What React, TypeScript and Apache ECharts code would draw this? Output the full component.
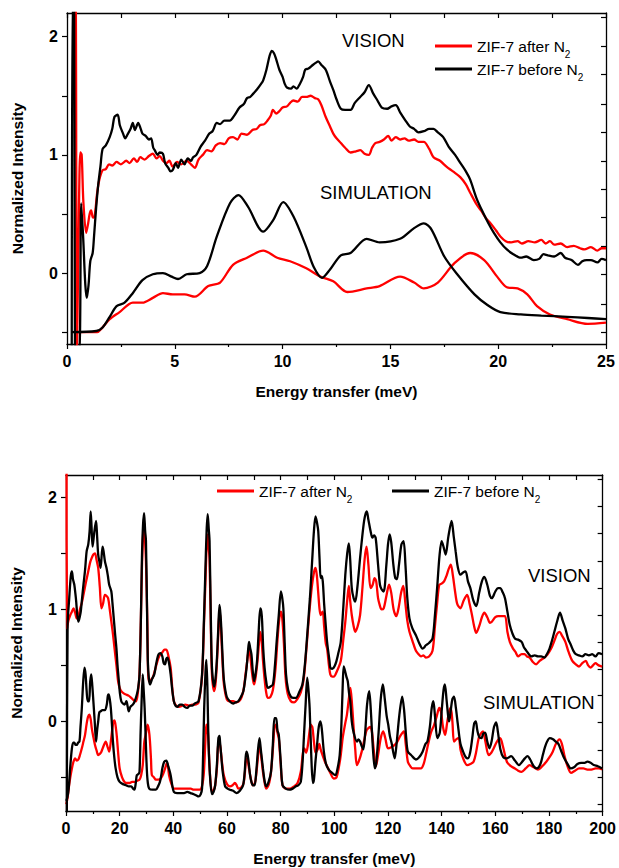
import React, { useEffect, useRef } from "react";
import * as echarts from "echarts";

const FONT = "'Liberation Sans', Arial, Helvetica, sans-serif";

const SERIES_NAMES = ["ZIF-7 after N2", "ZIF-7 before N2"];
const PANEL_LABELS = ["VISION", "SIMULATION"];
const X_NAME = "Energy transfer (meV)";
const Y_NAME = "Normalized Intensity";

// top panel (0-25 meV)
const topVisionAfter = [[0.36,2.4],[0.40,2.4],[0.46,-0.7],[0.55,0.5],[0.62,1.02],[0.68,1.0],[0.76,0.6],[0.89,0.34],[0.98,0.42],[1.05,0.5],[1.12,0.53],[1.2,0.47],[1.28,0.48],[1.4,0.68],[1.5,0.79],[1.65,0.87],[1.8,0.88],[1.95,0.92],[2.1,0.91],[2.3,0.94],[2.5,0.92],[2.75,0.95],[2.9,0.93],[3.1,0.97],[3.25,0.94],[3.4,0.98],[3.6,0.96],[3.8,0.99],[3.98,1.01],[4.15,0.97],[4.3,0.99],[4.45,0.95],[4.6,0.93],[4.75,0.95],[4.9,0.9],[5.1,0.94],[5.3,0.92],[5.55,0.95],[5.75,0.92],[5.93,0.89],[6.1,0.96],[6.3,1.0],[6.5,1.04],[6.7,1.03],[6.9,1.08],[7.1,1.1],[7.3,1.09],[7.5,1.14],[7.7,1.15],[7.9,1.13],[8.1,1.18],[8.35,1.17],[8.6,1.21],[8.8,1.22],[8.95,1.25],[9.15,1.26],[9.3,1.29],[9.45,1.33],[9.55,1.38],[9.7,1.35],[9.85,1.37],[10.0,1.4],[10.2,1.41],[10.35,1.44],[10.5,1.46],[10.7,1.45],[10.9,1.49],[11.1,1.49],[11.3,1.5],[11.5,1.48],[11.65,1.47],[11.8,1.42],[12.0,1.32],[12.2,1.24],[12.35,1.18],[12.5,1.14],[12.7,1.1],[12.9,1.06],[13.15,1.02],[13.4,1.03],[13.6,1.04],[13.8,1.01],[14.0,1.0],[14.15,1.06],[14.3,1.1],[14.5,1.11],[14.7,1.13],[14.9,1.16],[15.05,1.12],[15.25,1.15],[15.45,1.13],[15.65,1.14],[15.85,1.12],[16.1,1.13],[16.3,1.11],[16.55,1.11],[16.8,1.05],[17.0,0.98],[17.3,0.95],[17.6,0.9],[17.9,0.86],[18.25,0.81],[18.5,0.75],[18.7,0.68],[19.0,0.58],[19.2,0.53],[19.45,0.46],[19.65,0.42],[19.9,0.36],[20.1,0.31],[20.35,0.27],[20.6,0.26],[20.9,0.27],[21.1,0.25],[21.4,0.27],[21.7,0.26],[22.0,0.28],[22.2,0.25],[22.4,0.27],[22.6,0.24],[22.9,0.25],[23.2,0.22],[23.5,0.23],[23.8,0.21],[24.0,0.2],[24.3,0.22],[24.6,0.19],[24.8,0.21],[25,0.21]];
const topVisionBefore = [[0.22,-0.7],[0.26,2.4],[0.33,2.4],[0.37,-0.7],[0.56,-0.7],[0.66,0.59],[0.75,0.3],[0.85,-0.1],[0.92,-0.21],[1.0,-0.1],[1.08,0.1],[1.19,0.17],[1.25,0.3],[1.35,0.55],[1.45,0.75],[1.55,0.9],[1.65,1.05],[1.8,1.08],[1.98,1.15],[2.1,1.22],[2.2,1.32],[2.35,1.34],[2.45,1.25],[2.6,1.18],[2.7,1.14],[2.8,1.17],[2.95,1.22],[3.05,1.27],[3.15,1.21],[3.3,1.27],[3.42,1.22],[3.5,1.18],[3.65,1.16],[3.8,1.13],[3.9,1.14],[4.0,1.06],[4.07,1.04],[4.2,1.0],[4.3,1.02],[4.45,1.01],[4.55,0.93],[4.7,0.89],[4.8,0.86],[4.9,0.87],[5.05,0.93],[5.15,0.89],[5.3,0.96],[5.45,0.92],[5.6,0.97],[5.75,0.95],[5.85,0.98],[6.0,1.0],[6.2,1.07],[6.4,1.12],[6.6,1.18],[6.75,1.2],[6.95,1.27],[7.1,1.26],[7.3,1.29],[7.55,1.29],[7.75,1.33],[8.0,1.4],[8.2,1.43],[8.35,1.48],[8.5,1.49],[8.65,1.52],[8.8,1.55],[9.0,1.6],[9.1,1.63],[9.25,1.72],[9.4,1.84],[9.5,1.88],[9.6,1.86],[9.7,1.81],[9.85,1.72],[10.0,1.66],[10.1,1.6],[10.2,1.57],[10.4,1.56],[10.5,1.58],[10.65,1.56],[10.8,1.6],[10.95,1.66],[11.05,1.72],[11.2,1.73],[11.4,1.76],[11.55,1.78],[11.65,1.79],[11.8,1.76],[12.0,1.72],[12.2,1.62],[12.35,1.55],[12.5,1.47],[12.7,1.39],[12.9,1.38],[13.15,1.38],[13.35,1.44],[13.6,1.49],[13.8,1.53],[14.0,1.59],[14.2,1.52],[14.4,1.46],[14.6,1.4],[14.85,1.39],[15.05,1.41],[15.25,1.42],[15.45,1.36],[15.7,1.29],[15.9,1.24],[16.1,1.22],[16.3,1.19],[16.55,1.2],[16.8,1.22],[17.0,1.22],[17.2,1.19],[17.45,1.15],[17.7,1.07],[18.0,1.0],[18.25,0.93],[18.5,0.86],[18.7,0.79],[19.0,0.63],[19.3,0.51],[19.55,0.42],[19.8,0.34],[20.1,0.26],[20.4,0.2],[20.7,0.16],[21.05,0.13],[21.3,0.14],[21.65,0.11],[21.9,0.12],[22.1,0.16],[22.3,0.15],[22.6,0.14],[22.9,0.17],[23.1,0.13],[23.4,0.11],[23.7,0.07],[23.9,0.1],[24.1,0.11],[24.3,0.11],[24.6,0.09],[24.8,0.12],[25,0.11]];
const topSimAfter = [[0.4,-0.5],[1.4,-0.5],[1.6,-0.47],[1.98,-0.39],[2.44,-0.33],[3.05,-0.25],[3.5,-0.25],[3.98,-0.21],[4.45,-0.17],[4.9,-0.18],[5.45,-0.18],[5.93,-0.2],[6.55,-0.11],[7.1,-0.08],[7.7,0.07],[8.35,0.13],[9.1,0.19],[9.75,0.13],[10.35,0.1],[11.1,0.04],[11.75,-0.03],[12.35,-0.07],[13.0,-0.16],[13.9,-0.13],[14.5,-0.11],[15.45,-0.03],[16.1,-0.08],[16.55,-0.13],[17.2,-0.08],[17.95,0.08],[18.7,0.17],[19.35,0.11],[19.95,-0.03],[20.4,-0.12],[20.9,-0.13],[21.35,-0.18],[21.8,-0.28],[22.4,-0.35],[23.2,-0.39],[24.15,-0.43],[25,-0.42]];
const topSimBefore = [[0.2,-0.5],[1.36,-0.49],[1.65,-0.46],[1.98,-0.37],[2.3,-0.28],[2.67,-0.25],[3.05,-0.17],[3.5,-0.06],[3.98,-0.01],[4.45,0.0],[4.85,-0.03],[5.15,-0.05],[5.55,-0.01],[6.15,0.0],[6.5,0.06],[6.95,0.31],[7.56,0.59],[7.95,0.66],[8.4,0.56],[9.1,0.35],[9.57,0.45],[10.03,0.6],[10.5,0.48],[11.1,0.22],[11.45,0.05],[11.83,-0.04],[12.2,0.03],[12.7,0.15],[13.15,0.17],[13.9,0.29],[14.5,0.26],[15.45,0.29],[16.1,0.38],[16.55,0.42],[16.9,0.37],[17.5,0.14],[18.1,-0.01],[18.9,-0.18],[19.5,-0.27],[20.1,-0.33],[21.05,-0.35],[22.0,-0.36],[23.2,-0.37],[24.15,-0.38],[25,-0.39]];

// bottom panel (0-200 meV)
const botVisionAfter = [[0.2,2.4],[0.4,0.83],[0.9,0.9],[1.6,0.95],[2.2,0.98],[2.8,1.01],[3.4,0.97],[4.0,0.92],[4.6,0.94],[5.3,1.01],[5.9,1.06],[6.5,1.13],[7.4,1.24],[8.3,1.34],[9.0,1.42],[9.6,1.46],[10.2,1.49],[10.8,1.5],[11.4,1.44],[12.0,1.37],[12.6,1.2],[13.2,1.01],[13.8,1.05],[14.5,1.13],[15.1,1.12],[15.7,1.1],[16.3,1.0],[16.9,0.89],[17.5,0.78],[18.1,0.65],[18.8,0.5],[19.4,0.36],[20.0,0.3],[20.6,0.27],[21.5,0.25],[22.4,0.24],[23.3,0.23],[24.3,0.21],[25.2,0.19],[26.1,0.18],[26.8,0.26],[27.4,0.42],[27.9,0.9],[28.3,1.37],[28.7,1.65],[29.1,1.79],[29.5,1.6],[29.8,1.43],[30.3,0.9],[30.8,0.36],[31.5,0.37],[32.3,0.39],[33.2,0.46],[34.1,0.54],[34.7,0.58],[35.3,0.6],[36.0,0.62],[36.7,0.64],[37.4,0.64],[38.2,0.58],[39.0,0.48],[39.6,0.3],[40.2,0.18],[41.1,0.14],[42.1,0.13],[43.3,0.14],[44.5,0.15],[45.8,0.14],[47.0,0.15],[48.2,0.15],[49.4,0.17],[50.7,0.4],[51.4,0.85],[51.9,1.2],[52.4,1.55],[52.8,1.67],[53.2,1.55],[53.5,1.45],[54.0,0.8],[54.4,0.42],[55.2,0.27],[55.7,0.33],[56.2,0.5],[56.7,0.75],[57.2,0.98],[57.6,0.9],[58.0,0.7],[58.5,0.45],[58.9,0.32],[59.9,0.2],[61.1,0.18],[62.3,0.18],[63.5,0.17],[64.5,0.18],[65.5,0.22],[66.3,0.3],[66.9,0.42],[67.6,0.55],[68.2,0.65],[68.7,0.58],[69.2,0.46],[69.7,0.37],[70.1,0.33],[70.7,0.4],[71.4,0.55],[72.0,0.72],[72.4,0.8],[72.9,0.72],[73.4,0.55],[74.0,0.38],[74.6,0.26],[75.2,0.21],[76.2,0.22],[77.1,0.28],[78.0,0.45],[78.8,0.72],[79.5,0.92],[80.1,0.98],[80.6,0.92],[81.2,0.7],[81.8,0.4],[82.6,0.25],[83.8,0.18],[85.0,0.17],[86.2,0.2],[87.5,0.26],[88.6,0.38],[89.6,0.65],[90.6,0.95],[91.6,1.2],[92.4,1.33],[93.0,1.37],[93.5,1.3],[94.0,1.15],[94.5,1.0],[94.9,0.95],[95.3,0.97],[95.7,0.98],[96.2,0.85],[96.8,0.7],[97.3,0.65],[98.0,0.5],[98.5,0.42],[99.2,0.4],[99.8,0.4],[101.0,0.45],[102.4,0.54],[103.3,0.72],[104.1,0.89],[104.8,1.08],[105.4,1.21],[105.9,1.08],[106.5,0.95],[107.2,0.85],[107.8,0.8],[108.7,0.85],[109.6,0.95],[110.5,1.2],[111.3,1.45],[112.0,1.56],[112.7,1.4],[113.5,1.19],[114.3,1.22],[115.0,1.28],[115.6,1.25],[116.3,1.1],[116.9,1.04],[117.6,1.0],[118.4,1.01],[119.4,1.12],[120.4,1.22],[121.2,1.15],[122.1,1.0],[123.1,0.94],[124.0,1.02],[124.9,1.15],[125.7,1.21],[126.5,1.05],[127.2,0.9],[128.0,0.8],[129.1,0.72],[130.4,0.63],[131.4,0.6],[132.3,0.58],[133.2,0.59],[134.1,0.57],[135.3,0.58],[136.6,0.63],[137.5,0.85],[138.3,1.05],[139.1,1.22],[140.0,1.23],[140.9,1.25],[141.8,1.3],[142.6,1.36],[143.4,1.4],[144.2,1.3],[145.0,1.16],[145.8,1.05],[147.0,1.01],[148.2,1.08],[149.5,1.13],[150.4,1.05],[151.3,0.95],[152.1,0.85],[152.9,0.79],[154.0,0.85],[155.0,0.93],[155.9,0.97],[157.0,0.93],[158.0,0.88],[158.7,0.89],[160.0,0.93],[161.1,0.94],[162.3,0.94],[163.6,0.94],[164.5,0.8],[165.4,0.71],[166.6,0.65],[167.5,0.62],[168.5,0.58],[169.8,0.6],[170.9,0.6],[171.8,0.58],[172.8,0.57],[174.0,0.53],[175.2,0.51],[176.5,0.54],[178.3,0.57],[179.5,0.6],[180.8,0.65],[182.0,0.72],[183.0,0.78],[183.9,0.8],[185.0,0.76],[186.1,0.71],[187.3,0.62],[188.7,0.54],[190.0,0.51],[191.2,0.49],[192.4,0.52],[193.7,0.54],[194.6,0.5],[195.5,0.48],[196.4,0.5],[197.3,0.52],[198.5,0.5],[199.8,0.49]];
const botVisionBefore = [[0.3,-0.9],[0.6,0.86],[1.2,1.1],[1.8,1.3],[2.2,1.34],[2.6,1.27],[3.1,1.22],[3.5,1.14],[3.8,1.07],[4.2,0.95],[4.65,0.89],[5.1,0.93],[5.5,0.98],[6.0,1.1],[6.5,1.22],[7.1,1.35],[7.7,1.52],[8.3,1.58],[8.8,1.7],[9.2,1.875],[9.5,1.75],[9.9,1.56],[10.5,1.68],[11.2,1.79],[11.6,1.65],[12.0,1.49],[12.5,1.42],[12.9,1.37],[13.6,1.56],[14.0,1.52],[14.5,1.43],[15.1,1.37],[15.6,1.3],[16.1,1.22],[16.9,1.16],[17.3,1.06],[17.8,0.92],[18.3,0.78],[18.8,0.65],[19.2,0.5],[19.7,0.36],[20.1,0.25],[20.6,0.18],[21.2,0.16],[21.8,0.15],[22.5,0.18],[23.0,0.13],[23.4,0.09],[24.0,0.13],[24.9,0.15],[25.6,0.18],[26.4,0.24],[26.9,0.3],[27.4,0.42],[27.9,0.9],[28.3,1.46],[28.7,1.75],[29.1,1.86],[29.5,1.7],[29.8,1.61],[30.2,1.0],[30.5,0.54],[30.9,0.38],[31.3,0.33],[32.1,0.38],[32.9,0.42],[33.5,0.5],[34.0,0.56],[34.5,0.6],[35.2,0.61],[35.9,0.58],[36.4,0.52],[36.9,0.51],[37.4,0.56],[37.8,0.57],[38.4,0.52],[39.0,0.42],[39.6,0.28],[40.2,0.18],[40.8,0.14],[41.5,0.13],[42.4,0.15],[43.3,0.15],[44.2,0.13],[45.2,0.12],[46.1,0.14],[47.0,0.14],[48.0,0.16],[49.4,0.18],[50.7,0.42],[51.4,0.9],[51.9,1.31],[52.4,1.7],[52.8,1.85],[53.2,1.72],[53.5,1.61],[54.0,0.9],[54.4,0.48],[55.2,0.31],[55.7,0.38],[56.2,0.54],[56.7,0.8],[57.2,1.04],[57.6,0.95],[58.0,0.77],[58.5,0.5],[58.9,0.36],[59.9,0.22],[61.0,0.18],[62.3,0.16],[63.2,0.17],[64.2,0.18],[65.2,0.22],[66.1,0.27],[66.8,0.38],[67.3,0.48],[67.8,0.62],[68.2,0.71],[68.6,0.66],[69.1,0.6],[69.6,0.45],[70.1,0.36],[70.6,0.42],[71.2,0.54],[71.8,0.8],[72.4,1.01],[72.8,0.98],[73.1,0.89],[73.5,0.65],[74.0,0.48],[74.6,0.36],[75.2,0.3],[76.1,0.31],[77.1,0.33],[77.8,0.48],[78.5,0.71],[79.3,0.95],[80.1,1.16],[80.6,1.1],[81.0,1.01],[81.5,0.7],[82.0,0.42],[82.8,0.28],[83.8,0.22],[84.8,0.21],[85.7,0.21],[86.9,0.26],[88.1,0.33],[89.0,0.5],[89.9,0.77],[90.9,1.1],[91.8,1.46],[92.4,1.7],[93.0,1.83],[93.5,1.78],[94.0,1.7],[94.5,1.45],[94.9,1.28],[95.3,1.3],[95.7,1.25],[96.2,1.05],[96.7,0.89],[97.3,0.71],[98.2,0.54],[98.5,0.48],[99.2,0.47],[100.4,0.51],[101.4,0.6],[102.4,0.71],[103.3,1.0],[104.1,1.31],[104.8,1.5],[105.4,1.59],[105.9,1.45],[106.5,1.19],[107.2,1.1],[107.8,1.07],[108.6,1.2],[109.6,1.46],[110.4,1.65],[111.1,1.79],[111.6,1.85],[112.1,1.875],[112.7,1.8],[113.5,1.7],[114.2,1.64],[114.8,1.66],[115.4,1.64],[116.3,1.4],[117.0,1.22],[117.6,1.18],[118.4,1.16],[119.4,1.4],[120.0,1.58],[120.6,1.67],[121.2,1.6],[122.0,1.4],[122.7,1.28],[123.3,1.27],[124.1,1.4],[125.0,1.58],[125.8,1.61],[126.5,1.4],[127.2,1.1],[128.0,0.92],[129.1,0.83],[130.4,0.77],[131.6,0.7],[132.9,0.65],[133.5,0.66],[134.1,0.68],[135.3,0.7],[136.6,0.74],[137.5,0.95],[138.4,1.22],[139.2,1.48],[140.0,1.61],[140.8,1.55],[141.5,1.49],[142.5,1.65],[143.7,1.79],[144.5,1.65],[145.2,1.52],[146.0,1.38],[147.0,1.31],[148.0,1.33],[148.9,1.34],[149.8,1.25],[150.7,1.19],[151.8,1.08],[152.9,1.03],[154.0,1.15],[155.0,1.25],[155.9,1.29],[157.0,1.22],[158.0,1.12],[158.7,1.1],[160.0,1.16],[161.0,1.19],[161.8,1.19],[162.8,1.15],[163.6,1.1],[164.5,0.98],[165.4,0.86],[166.3,0.79],[167.3,0.74],[168.5,0.73],[169.8,0.71],[170.7,0.66],[171.6,0.63],[172.5,0.6],[173.4,0.58],[174.7,0.59],[175.9,0.58],[177.1,0.58],[178.3,0.57],[179.2,0.6],[180.2,0.65],[181.1,0.72],[182.0,0.8],[183.0,0.89],[184.1,0.97],[185.1,0.9],[186.1,0.83],[187.1,0.74],[188.2,0.68],[189.1,0.63],[190.0,0.6],[191.2,0.59],[192.4,0.58],[193.6,0.6],[194.9,0.59],[196.1,0.6],[197.3,0.58],[198.5,0.61],[199.8,0.6]];
const botSimAfter = [[0.1,-0.74],[0.6,-0.68],[1.0,-0.6],[1.6,-0.5],[2.2,-0.42],[2.8,-0.36],[3.4,-0.33],[4.0,-0.35],[4.6,-0.34],[5.2,-0.3],[5.9,-0.24],[6.5,-0.18],[7.1,-0.12],[7.7,-0.02],[8.2,0.04],[8.7,0.06],[9.2,0.02],[9.6,-0.06],[10.2,-0.14],[10.8,-0.21],[11.4,-0.26],[12.0,-0.3],[12.6,-0.29],[13.2,-0.27],[14.0,-0.22],[14.8,-0.18],[15.4,-0.22],[16.1,-0.27],[16.7,-0.18],[17.3,-0.06],[17.7,0.0],[18.1,0.01],[18.6,-0.06],[19.0,-0.15],[19.5,-0.3],[20.0,-0.42],[20.9,-0.5],[21.8,-0.54],[22.7,-0.55],[23.7,-0.55],[24.6,-0.54],[25.5,-0.54],[26.5,-0.53],[27.4,-0.52],[28.0,-0.48],[28.6,-0.39],[29.2,-0.18],[29.7,-0.12],[30.4,-0.03],[30.9,-0.08],[31.3,-0.18],[31.7,-0.35],[32.0,-0.48],[32.8,-0.5],[33.5,-0.52],[34.4,-0.52],[35.3,-0.51],[36.2,-0.47],[37.2,-0.4],[37.6,-0.37],[38.0,-0.4],[38.4,-0.48],[39.2,-0.55],[40.2,-0.6],[41.6,-0.6],[43.3,-0.6],[45.0,-0.6],[46.5,-0.6],[47.6,-0.61],[49.2,-0.61],[50.4,-0.6],[51.3,-0.48],[51.9,-0.2],[52.3,-0.03],[52.7,-0.05],[53.1,-0.18],[53.6,-0.45],[54.4,-0.63],[55.1,-0.61],[55.6,-0.57],[56.3,-0.4],[56.8,-0.18],[57.3,-0.2],[57.6,-0.24],[58.2,-0.38],[58.8,-0.48],[60.0,-0.56],[61.1,-0.58],[62.1,-0.57],[62.9,-0.55],[63.6,-0.57],[64.2,-0.6],[65.3,-0.59],[66.2,-0.55],[66.7,-0.45],[67.2,-0.33],[67.7,-0.35],[68.2,-0.42],[68.8,-0.5],[69.6,-0.57],[70.4,-0.55],[71.0,-0.45],[71.5,-0.33],[72.1,-0.2],[72.6,-0.28],[73.4,-0.45],[74.2,-0.57],[74.6,-0.6],[75.6,-0.56],[76.4,-0.45],[77.1,-0.25],[77.7,-0.05],[78.3,-0.03],[78.8,-0.1],[79.3,-0.15],[80.0,-0.38],[80.7,-0.57],[82.0,-0.6],[83.5,-0.6],[85.0,-0.58],[86.3,-0.55],[87.5,-0.45],[88.3,-0.28],[88.8,-0.24],[89.5,-0.28],[90.1,-0.22],[90.7,-0.1],[91.2,-0.03],[91.8,-0.05],[92.4,-0.18],[93.0,-0.28],[93.8,-0.25],[94.4,-0.2],[94.9,-0.25],[95.6,-0.3],[96.5,-0.36],[97.3,-0.4],[98.5,-0.46],[99.8,-0.51],[100.8,-0.5],[101.6,-0.42],[102.4,-0.3],[103.1,-0.15],[103.5,-0.09],[104.2,0.0],[104.7,0.06],[105.4,0.2],[106.0,0.3],[106.6,0.15],[107.2,-0.06],[107.8,-0.25],[108.4,-0.39],[109.2,-0.35],[110.2,-0.27],[111.3,-0.15],[112.0,-0.08],[112.7,-0.06],[113.4,-0.05],[114.0,-0.09],[114.8,-0.28],[115.5,-0.4],[116.3,-0.3],[117.3,-0.15],[118.2,-0.09],[119.0,-0.15],[120.0,-0.24],[121.2,-0.23],[122.5,-0.21],[123.5,-0.18],[124.6,-0.13],[125.9,-0.09],[126.6,-0.2],[127.4,-0.36],[128.3,-0.4],[129.2,-0.42],[130.7,-0.42],[132.3,-0.42],[133.3,-0.38],[134.1,-0.3],[135.0,-0.2],[136.0,-0.1],[137.2,-0.03],[138.2,0.05],[139.1,0.12],[139.8,0.08],[140.5,-0.05],[141.3,-0.12],[142.0,-0.02],[142.7,0.08],[143.4,0.12],[144.0,0.0],[144.6,-0.18],[145.4,-0.16],[146.4,-0.15],[147.0,-0.25],[148.0,-0.33],[149.5,-0.39],[150.7,-0.38],[151.9,-0.36],[152.8,-0.28],[153.8,-0.15],[154.6,-0.11],[155.4,-0.09],[156.3,-0.18],[157.5,-0.3],[158.5,-0.28],[159.4,-0.24],[160.6,-0.18],[161.8,-0.15],[162.8,-0.22],[164.3,-0.36],[165.8,-0.4],[167.3,-0.42],[168.5,-0.44],[169.8,-0.45],[171.3,-0.42],[172.8,-0.39],[174.3,-0.41],[175.9,-0.43],[177.5,-0.4],[179.0,-0.36],[180.2,-0.32],[181.4,-0.27],[182.6,-0.2],[183.9,-0.16],[184.8,-0.2],[185.7,-0.3],[186.9,-0.4],[188.2,-0.46],[189.7,-0.44],[191.2,-0.42],[192.8,-0.42],[194.3,-0.43],[195.8,-0.43],[197.4,-0.42],[198.6,-0.42],[199.8,-0.43]];
const botSimBefore = [[0.1,-0.71],[0.5,-0.68],[1.0,-0.6],[1.6,-0.4],[2.2,-0.24],[2.7,-0.19],[3.1,-0.19],[3.6,-0.21],[4.0,-0.21],[4.5,-0.19],[5.0,-0.18],[5.4,-0.05],[5.9,0.12],[6.4,0.35],[6.9,0.48],[7.3,0.42],[7.7,0.27],[8.1,0.18],[8.6,0.18],[9.0,0.35],[9.4,0.42],[9.8,0.32],[10.2,0.18],[10.7,0.0],[11.2,-0.18],[11.6,-0.08],[12.0,0.0],[12.4,0.08],[12.9,0.09],[13.6,0.1],[14.5,0.1],[15.2,0.15],[15.6,0.23],[15.9,0.24],[16.3,0.2],[16.7,0.12],[17.1,-0.02],[17.5,-0.18],[18.0,-0.32],[18.5,-0.42],[19.2,-0.5],[20.0,-0.54],[21.2,-0.56],[22.4,-0.57],[23.4,-0.58],[24.3,-0.58],[25.0,-0.6],[25.5,-0.61],[26.0,-0.55],[26.4,-0.48],[27.0,-0.47],[27.4,-0.45],[27.8,-0.1],[28.1,0.12],[28.6,0.42],[28.9,0.3],[29.3,0.12],[29.7,-0.15],[30.1,-0.42],[30.5,-0.55],[31.0,-0.6],[32.2,-0.61],[33.5,-0.61],[34.3,-0.58],[35.0,-0.54],[35.5,-0.48],[35.9,-0.42],[36.6,-0.36],[37.4,-0.35],[38.1,-0.4],[39.0,-0.48],[39.6,-0.57],[40.2,-0.63],[41.4,-0.64],[42.7,-0.64],[44.0,-0.64],[45.2,-0.63],[46.4,-0.64],[47.6,-0.65],[48.5,-0.66],[49.4,-0.67],[50.2,-0.65],[50.7,-0.6],[51.1,-0.3],[51.5,0.12],[52.0,0.45],[52.3,0.55],[52.7,0.3],[53.1,-0.18],[53.7,-0.5],[54.4,-0.65],[55.0,-0.63],[55.6,-0.57],[56.2,-0.4],[56.8,-0.15],[57.2,-0.13],[57.4,-0.18],[57.9,-0.32],[58.4,-0.45],[59.3,-0.58],[60.2,-0.6],[61.1,-0.61],[62.3,-0.62],[63.6,-0.64],[64.8,-0.62],[66.0,-0.57],[66.6,-0.45],[67.2,-0.27],[67.7,-0.3],[68.2,-0.39],[68.6,-0.48],[69.1,-0.54],[69.7,-0.57],[70.3,-0.57],[70.9,-0.45],[71.5,-0.27],[72.1,-0.15],[72.6,-0.25],[73.4,-0.42],[74.0,-0.53],[74.6,-0.58],[75.5,-0.54],[76.4,-0.45],[77.1,-0.2],[77.7,0.03],[78.3,0.03],[78.8,-0.08],[79.3,-0.12],[80.0,-0.35],[80.7,-0.57],[81.9,-0.6],[83.2,-0.61],[84.5,-0.6],[85.7,-0.58],[86.6,-0.57],[87.5,-0.54],[88.2,-0.35],[88.7,-0.12],[89.3,0.15],[89.9,0.39],[90.3,0.3],[90.8,0.12],[91.4,-0.3],[92.0,-0.55],[92.4,-0.52],[93.0,-0.35],[93.6,-0.2],[94.2,-0.05],[94.8,0.0],[95.3,-0.06],[96.1,-0.27],[96.9,-0.38],[97.9,-0.43],[99.2,-0.46],[100.4,-0.48],[101.2,-0.42],[102.0,-0.3],[102.6,-0.05],[103.1,0.3],[103.5,0.49],[104.0,0.45],[104.5,0.4],[105.0,0.36],[105.5,0.25],[105.9,0.19],[106.5,0.0],[107.2,-0.1],[108.4,-0.18],[109.0,-0.16],[109.6,-0.18],[110.2,-0.22],[110.8,-0.25],[111.5,-0.1],[112.2,0.15],[113.0,0.27],[113.6,0.1],[114.4,-0.25],[115.1,-0.42],[115.6,-0.38],[116.5,-0.1],[117.3,0.2],[118.1,0.33],[118.8,0.2],[119.5,0.05],[120.1,-0.03],[120.7,-0.13],[121.4,-0.2],[122.0,-0.28],[122.5,-0.33],[123.2,-0.2],[124.2,0.05],[125.3,0.22],[126.0,0.1],[126.8,-0.15],[127.4,-0.27],[128.6,-0.3],[130.4,-0.34],[131.6,-0.32],[132.9,-0.27],[134.0,-0.2],[134.7,-0.18],[135.6,-0.05],[136.3,0.12],[136.9,0.18],[137.5,0.05],[138.4,-0.15],[139.3,-0.1],[140.1,0.12],[140.7,0.28],[141.2,0.33],[141.8,0.2],[142.5,0.03],[142.8,0.0],[143.4,0.1],[144.0,0.2],[144.6,0.22],[145.3,0.12],[146.0,-0.02],[147.0,-0.2],[148.0,-0.27],[149.0,-0.32],[149.8,-0.33],[150.6,-0.28],[151.4,-0.15],[152.1,-0.02],[152.7,0.0],[153.3,-0.08],[154.0,-0.14],[154.8,-0.15],[155.5,-0.11],[156.2,-0.1],[157.0,-0.18],[157.8,-0.24],[158.6,-0.18],[159.5,-0.05],[160.3,-0.01],[161.0,-0.1],[161.9,-0.25],[163.0,-0.32],[164.3,-0.33],[165.9,-0.31],[167.3,-0.35],[168.8,-0.39],[170.0,-0.36],[171.0,-0.33],[172.0,-0.31],[173.0,-0.34],[174.3,-0.4],[175.5,-0.42],[176.8,-0.38],[177.7,-0.3],[178.5,-0.23],[179.3,-0.18],[180.3,-0.15],[181.5,-0.16],[182.5,-0.18],[183.5,-0.2],[184.5,-0.26],[185.7,-0.33],[186.9,-0.38],[188.1,-0.42],[189.3,-0.41],[190.6,-0.38],[192.0,-0.37],[193.3,-0.37],[194.3,-0.36],[195.5,-0.37],[196.7,-0.39],[198.2,-0.4],[199.8,-0.42]];

// axis tick values
const leftTickValues = [-0.5, 0, 0.5, 1, 1.5, 2];
const leftLabelValues = [0, 1, 2];
const rightTickValues = [2.16, 1.92, 1.68, 1.43, 1.19, 0.95, 0.71, 0.47, 0.23, -0.01, -0.26, -0.5, -0.74];

const RED = "#ff0000";
const BLACK = "#000000";

function xAxes(gridIndex: number, max: number, interval: number, topInterval: number, nameGap: number) {
  const axisLine = { show: true, onZero: false, lineStyle: { color: BLACK, width: 1.3 } };
  return [
    {
      gridIndex, type: "value", min: 0, max, interval, position: "bottom",
      axisLine,
      axisTick: { show: true, inside: false, length: 5, lineStyle: { color: BLACK, width: 1.2 } },
      minorTick: { show: true, splitNumber: 2, length: 3, lineStyle: { color: BLACK, width: 1.2 } },
      axisLabel: { color: BLACK, fontFamily: FONT, fontWeight: "bold", fontSize: 16, margin: 9 },
      splitLine: { show: false }, minorSplitLine: { show: false },
      name: X_NAME, nameLocation: "middle", nameGap,
      nameTextStyle: { color: BLACK, fontFamily: FONT, fontWeight: "bold", fontSize: 15.5 },
    },
    {
      gridIndex, type: "value", min: 0, max, interval: topInterval, position: "top",
      axisLine,
      axisTick: { show: true, inside: true, length: 5, lineStyle: { color: BLACK, width: 1.2 } },
      axisLabel: { show: false }, splitLine: { show: false },
    },
  ];
}

function yAxes(gridIndex: number, min: number) {
  const axisLine = { show: true, onZero: false, lineStyle: { color: BLACK, width: 1.3 } };
  return [
    {
      gridIndex, type: "value", min, max: 2.2, position: "left",
      axisLine,
      axisTick: { show: true, inside: false, length: 5, customValues: leftTickValues.filter((v) => v >= min), lineStyle: { color: BLACK, width: 1.2 } },
      axisLabel: { customValues: leftLabelValues, color: BLACK, fontFamily: FONT, fontWeight: "bold", fontSize: 16, margin: 9 },
      splitLine: { show: false },
      name: Y_NAME, nameLocation: "middle", nameGap: 42, nameRotate: 90,
      nameTextStyle: { color: BLACK, fontFamily: FONT, fontWeight: "bold", fontSize: 15.5 },
    },
    {
      gridIndex, type: "value", min, max: 2.2, position: "right",
      axisLine,
      axisTick: { show: true, inside: true, length: 5, customValues: rightTickValues.filter((v) => v >= min), lineStyle: { color: BLACK, width: 1.2 } },
      axisLabel: { show: false }, splitLine: { show: false },
    },
  ];
}

function line(name: string, data: number[][], color: string, xi: number, yi: number, z: number) {
  return {
    type: "line", name, data, xAxisIndex: xi, yAxisIndex: yi,
    showSymbol: false, symbol: "none", smooth: 0.3, clip: true, z,
    lineStyle: { color, width: 2.3 }, itemStyle: { color },
  };
}

function legend(name: string, left: number, top: number) {
  return {
    data: [name], left, top, padding: 0, icon: "rect", itemWidth: 37, itemHeight: 3,
    selectedMode: false,
    formatter: (n: string) => `{a|${n.slice(0, -1)}}{s|${n.slice(-1)}}`,
    textStyle: {
      color: BLACK,
      rich: {
        a: { fontFamily: FONT, fontSize: 15.5, color: BLACK, lineHeight: 26, verticalAlign: "middle" },
        s: { fontFamily: FONT, fontSize: 10, color: BLACK, lineHeight: 11, verticalAlign: "bottom" },
      },
    },
  };
}

function label(text: string, left: number, top: number) {
  return { type: "text", left, top, style: { text, fontFamily: FONT, fontSize: 18.5, fill: BLACK } };
}

export default function App() {
  const ref = useRef<HTMLDivElement>(null);
  useEffect(() => {
    document.body.style.margin = "0";
    const chart = echarts.init(ref.current!, null, { renderer: "svg" });
    chart.setOption({
      animation: false,
      backgroundColor: "#ffffff",
      grid: [
        { left: 67, right: 13, top: 13, height: 331 },
        { left: 66, right: 10, top: 475, height: 336 },
      ],
      xAxis: [...xAxes(0, 25, 5, 2.5, 39), ...xAxes(1, 200, 20, 10, 39)],
      yAxis: [...yAxes(0, -0.6), ...yAxes(1, -0.8)],
      legend: [
        legend(SERIES_NAMES[0], 435, 38),
        legend(SERIES_NAMES[1], 435, 61),
        legend(SERIES_NAMES[0], 217, 483),
        legend(SERIES_NAMES[1], 392, 483),
      ],
      graphic: [
        label(PANEL_LABELS[0], 342, 31),
        label(PANEL_LABELS[1], 320, 183),
        label(PANEL_LABELS[0], 528, 566),
        label(PANEL_LABELS[1], 483, 693),
      ],
      series: [
        line(SERIES_NAMES[0], topVisionAfter, RED, 0, 0, 2),
        line(SERIES_NAMES[1], topVisionBefore, BLACK, 0, 0, 3),
        line(SERIES_NAMES[0], topSimAfter, RED, 0, 0, 2),
        line(SERIES_NAMES[1], topSimBefore, BLACK, 0, 0, 3),
        line(SERIES_NAMES[0], botVisionAfter, RED, 2, 2, 2),
        line(SERIES_NAMES[1], botVisionBefore, BLACK, 2, 2, 3),
        line(SERIES_NAMES[0], botSimAfter, RED, 2, 2, 2),
        line(SERIES_NAMES[1], botSimBefore, BLACK, 2, 2, 3),
      ],
    });
    return () => chart.dispose();
  }, []);
  return <div ref={ref} style={{ width: 619, height: 868 }} />;
}
